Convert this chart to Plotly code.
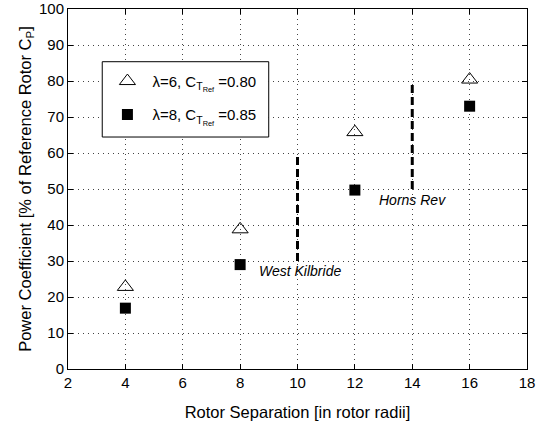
import plotly.graph_objects as go

separation = [4, 8, 12, 16]
cp_lambda6 = [22.8, 38.8, 65.8, 80.4]
cp_lambda8 = [16.9, 29.0, 49.7, 73.0]

sites = ["West Kilbride", "Horns Rev"]
site_x = [10, 14]
site_lo = [30, 50]
site_hi = [60, 80]
label_x = [10.1, 14.0]
label_y = [27.3, 47.0]

FONT = "Liberation Sans, Arial, Helvetica, sans-serif"

fig = go.Figure()
fig.add_trace(go.Scatter(
    x=separation, y=cp_lambda6, mode="markers", legendgroup="a",
    name="λ=6, C<sub>T<sub>Ref</sub></sub>\u00a0=0.80",
    marker=dict(symbol="triangle-up-open", size=14, color="black", line=dict(width=1, color="black")),
))
fig.add_trace(go.Scatter(
    x=separation, y=cp_lambda8, mode="markers", legendgroup="b",
    name="λ=8, C<sub>T<sub>Ref</sub></sub>\u00a0=0.85",
    marker=dict(symbol="square", size=11, color="black"),
))
for sx, lo, hi in zip(site_x, site_lo, site_hi):
    fig.add_trace(go.Scatter(
        x=[sx, sx], y=[lo, hi], mode="lines", showlegend=False,
        line=dict(color="black", width=3, dash="8px,4px"),
    ))
for name, lx, ly in zip(sites, label_x, label_y):
    fig.add_annotation(x=lx, y=ly, text=f"<i>{name}</i>", showarrow=False,
                       font=dict(size=14, color="black", family=FONT))

# legend frame (white box with black border)
fig.add_shape(type="rect", xref="paper", yref="paper",
              x0=0.0746, x1=0.4373, y0=0.6444, y1=0.8536,
              line=dict(color="black", width=1), fillcolor="white", layer="above")

axis_common = dict(
    showline=True, linecolor="black", linewidth=1, mirror="ticks",
    ticks="inside", ticklen=5, tickcolor="black",
    showgrid=True, gridcolor="#444444", griddash="1px,4px", gridwidth=1,
    zeroline=False, automargin=False,
    tickfont=dict(size=15, color="black", family=FONT),
)
fig.update_xaxes(range=[2, 18], dtick=2, tick0=2,
                 title=dict(text="Rotor Separation [in rotor radii]", standoff=16,
                            font=dict(size=16.5, color="black", family=FONT)),
                 **axis_common)
fig.update_yaxes(range=[0, 100], dtick=10,
                 title=dict(text="Power Coefficient [% of Reference Rotor C<sub>P</sub>]", standoff=3,
                            font=dict(size=16.5, color="black", family=FONT)),
                 **axis_common)

fig.update_layout(
    width=547, height=425,
    margin=dict(l=68, r=20, t=9, b=56, autoexpand=False),
    paper_bgcolor="white", plot_bgcolor="white",
    font=dict(family=FONT, color="black"),
    legend=dict(x=0.075, y=0.845, xanchor="left", yanchor="top",
                borderwidth=0, bgcolor="rgba(0,0,0,0)",
                font=dict(size=15, color="black", family=FONT),
                itemwidth=40, tracegroupgap=11),
)
fig.write_html("out.html")
